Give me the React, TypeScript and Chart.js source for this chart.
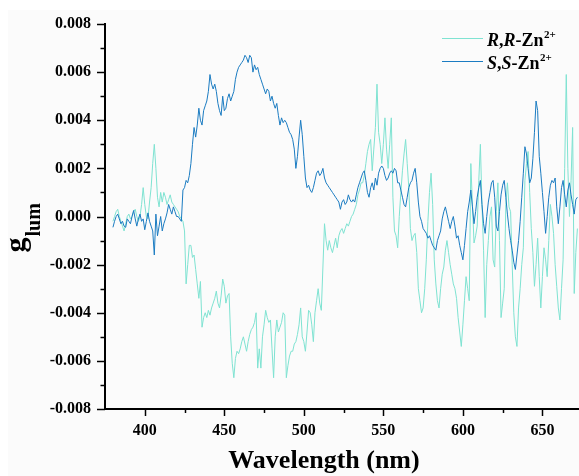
import React, { useEffect, useRef } from "react";
import { Chart, registerables } from "chart.js";

Chart.register(...registerables);

// sampling grid (nm)
const WL_START = 380;
const WL_END = 672;
const WAVELENGTHS: number[] = Array.from({ length: WL_END - WL_START + 1 }, (_, i) => WL_START + i);

// S,S-Zn2+ glum (380..672 nm, 1 nm step)
const SS_ZN: number[] = [
  -0.00045, -0.0002, 0, 0.0001, -0.0001, -0.0003, -0.0002, -0.0004, -0.00045, -0.0001,
  -0.0002, -0.0003, 0, 0.00025, -0.0001, -0.0004, -0.0001, 0.0001, -0.0002, -0.0001,
  -0.00055, -0.0002, 0.00015, -0.0002, -0.0004, -0.0006, -0.0016, 0.0001, -0.0008, -0.0004,
  0, -0.0006, -0.0003, -0.0001, 0.00015, 0.0005, 0.0003, 0.0001, 0.0004, 0.0002,
  0, 0, -0.0001, -0.0002, 0.0011, 0.0012, 0.0015, 0.0014, 0.0017, 0.0022,
  0.003, 0.0037, 0.0033, 0.0038, 0.0045, 0.004, 0.0038, 0.0044, 0.0046, 0.0048,
  0.0052, 0.0059, 0.0055, 0.0053, 0.0055, 0.0052, 0.0047, 0.0044, 0.0042, 0.005,
  0.0044, 0.0045, 0.0049, 0.0051, 0.0048, 0.005, 0.0052, 0.0057, 0.006, 0.0062,
  0.0063, 0.0064, 0.0065, 0.0067, 0.0066, 0.0064, 0.0067, 0.0066, 0.006, 0.0063,
  0.0061, 0.0062, 0.0059, 0.0057, 0.0055, 0.0053, 0.0051, 0.0053, 0.0052, 0.0048,
  0.005, 0.0047, 0.0045, 0.0047, 0.0042, 0.0038, 0.0041, 0.0039, 0.004, 0.0039,
  0.0037, 0.0035, 0.0034, 0.0032, 0.0028, 0.002, 0.0025, 0.0033, 0.004, 0.0034,
  0.0025, 0.0016, 0.0012, 0.0013, 0.0011, 0.001, 0.0012, 0.0015, 0.0018, 0.0019,
  0.0017, 0.0018, 0.002, 0.0016, 0.0014, 0.0013, 0.0012, 0.0011, 0.001, 0.0009,
  0.0008, 0.0007, 0.0006, 0.0003, 0.0006, 0.0007, 0.0005, 0.0006, 0.0009, 0.0007,
  0.0006, 0.0007, 0.0006, 0.0009, 0.0012, 0.0014, 0.0016, 0.0018, 0.0019, 0.0015,
  0.001, 0.0008, 0.0012, 0.0014, 0.0011, 0.0016, 0.0013, 0.0018, 0.002, 0.0021,
  0.002, 0.0017, 0.0015, 0.0016, 0.0018, 0.0019, 0.0018, 0.002, 0.0019, 0.0014,
  0.0014, 0.0011, 0.0008, 0.0005, 0.0004, 0.0008, 0.0012, 0.0014, 0.0015, 0.0018,
  0.002, 0.0014, 0.0006, 0, -0.0002, -0.0005, -0.0006, -0.0007, -0.0009, -0.0008,
  -0.001, -0.0012, -0.0013, -0.0014, -0.001, -0.0008, -0.0006, -0.0001, 0.0002, 0.0004,
  0.0001, -0.0002, -0.0005, -0.0002, 0, -0.0004, -0.0009, -0.0008, -0.0012, -0.0015,
  -0.0018, -0.0012, -0.0005, 0.0002, 0.0006, 0.0011, 0.0004, -0.0003, 0.0002, 0.0008,
  0.0012, 0.0015, 0.0005, -0.0003, -0.0007, 0, 0.0006, 0.001, 0.0014, 0.0015,
  0.0008, -0.0004, -0.0006, 0.0002, 0.0009, 0.0013, 0.0015, 0.0008, 0.0001, -0.0005,
  -0.001, -0.0014, -0.0019, -0.0022, -0.0016, -0.001, -0.0002, 0.0008, 0.0018, 0.0029,
  0.0026, 0.002, 0.0014, 0.0016, 0.0024, 0.0035, 0.0048, 0.0044, 0.0025, 0.0018,
  0.001, 0.0002, -0.0007, 0, 0.0008, 0.0013, 0.0015, 0.0014, 0.0016, 0.0004,
  -0.0003, 0.0004, 0.0012, 0.0015, 0.0009, 0.0004, 0.0011, 0.0014, 0.0009, 0.0005,
  0.0001, 0.0007, 0.0008,
];

// R,R-Zn2+ glum (380..672 nm, 1 nm step)
const RR_ZN: number[] = [
  -0.0002, 0, 0.0002, 0.0003, 0, -0.0002, -0.0004, -0.0006, -0.0003, 0,
  0.0001, -0.0001, 0, 0.0002, 0.0003, 0, -0.0002, 0, 0.0005, 0.0012,
  0.0005, 0, -0.0001, 0.0006, 0.0012, 0.0022, 0.003, 0.002, 0.0008, 0.0004,
  0.001, 0.0006, 0.001, 0.0008, 0.0005, 0.0007, 0.0009, 0.0006, 0.0005, 0.0004,
  0.0003, 0.0002, 0, -0.0001, -0.0002, -0.0006, -0.0028, -0.002, -0.0012, -0.0012,
  -0.0017, -0.0016, -0.0022, -0.0028, -0.0034, -0.0027, -0.0046, -0.0042, -0.004, -0.0042,
  -0.0039, -0.0041, -0.0038, -0.0036, -0.0034, -0.0031, -0.0036, -0.0038, -0.0033, -0.0026,
  -0.0029, -0.0036, -0.0033, -0.0032, -0.005, -0.0061, -0.0067, -0.0059, -0.0056, -0.0057,
  -0.0055, -0.0052, -0.005, -0.0053, -0.0056, -0.0052, -0.0049, -0.0047, -0.0046, -0.0044,
  -0.004, -0.0063, -0.0055, -0.0063, -0.005, -0.0045, -0.0039, -0.0042, -0.0044, -0.0043,
  -0.0055, -0.0067, -0.005, -0.0043, -0.0048, -0.0046, -0.0044, -0.004, -0.0041, -0.0067,
  -0.0062, -0.0058, -0.0056, -0.0056, -0.0053, -0.0052, -0.0049, -0.0045, -0.0038, -0.005,
  -0.0052, -0.0056, -0.0048, -0.0039, -0.004, -0.0045, -0.0052, -0.004, -0.0035, -0.003,
  -0.0036, -0.0039, -0.0021, -0.0003, -0.001, -0.0014, -0.001, -0.0013, -0.0015, -0.0012,
  -0.0009, -0.0013, -0.0008, -0.0006, -0.0005, -0.0007, -0.0005, -0.0003, -0.0004, -0.0002,
  0, 0.0001, 0.0003, 0.0005, 0.0009, 0.0011, 0.0014, 0.0014, 0.0017, 0.0022,
  0.0027, 0.003, 0.0032, 0.0019, 0.0028, 0.0037, 0.0055, 0.0035, 0.003, 0.0022,
  0.003, 0.0041, 0.0028, 0.002, 0.003, 0.0041, 0.0008, -0.0006, -0.0008, -0.0013,
  0, 0.001, 0.0019, 0.0026, 0.0032, 0.0022, 0.0012, -0.0005, -0.001, -0.0008,
  -0.0007, -0.0015, -0.003, -0.0035, -0.004, -0.0038, -0.003, -0.0018, -0.0002, 0.001,
  0.0018, 0.0005, -0.0018, -0.0028, -0.0035, -0.0038, -0.003, -0.0024, -0.0021, -0.0014,
  -0.001, -0.0015, -0.002, -0.0024, -0.0028, -0.003, -0.0034, -0.0042, -0.0048, -0.0054,
  -0.0045, -0.0035, -0.0025, -0.003, -0.0035, 0.0022, 0.0005, -0.0011, -0.0008, -0.0004,
  0.0015, 0.003, 0.0005, -0.0014, -0.0042, -0.002, -0.001, 0, 0.0004, -0.0018,
  -0.0021, 0.0002, 0.0014, -0.001, -0.0042, -0.0036, -0.003, 0.0005, 0.0014, 0.0004,
  0.0002, -0.002, -0.004, -0.005, -0.0054, -0.0038, -0.003, -0.002, -0.0013, 0.0015,
  0.0022, 0.0027, 0.001, -0.0005, -0.0015, -0.0029, -0.002, -0.0009, -0.0025, -0.0038,
  -0.0025, -0.0013, -0.0018, -0.0025, -0.001, 0.0005, 0, -0.0007, -0.002, -0.0029,
  -0.0038, -0.0043, -0.003, -0.0018, 0.002, 0.0059, 0.002, 0, 0.0015, 0.0037,
  -0.0032, -0.0015, -0.0005,
];

const X_MIN = 375;
const X_MAX = 673;
const X_MAJOR = [400, 450, 500, 550, 600, 650];
const X_MINOR = [425, 475, 525, 575, 625];
const Y_MIN = -0.008;
const Y_MAX = 0.008;
const Y_MAJOR = [-0.008, -0.006, -0.004, -0.002, 0, 0.002, 0.004, 0.006, 0.008];
const Y_MINOR = [-0.007, -0.005, -0.003, -0.001, 0.001, 0.003, 0.005, 0.007];

const X_TITLE = "Wavelength (nm)";
const Y_TITLE_MAIN = "g";
const Y_TITLE_SUB = "lum";

const AQUA = "#7fe3d2";
const BLUE = "#1b7cc2";
const FONT = "'Liberation Serif', 'Times New Roman', serif";

type Seg = { t: string; italic?: boolean };
const LEGEND = [
  { color: AQUA, segs: [{ t: "R", italic: true }, { t: "," }, { t: "R", italic: true }, { t: "-Zn" }] as Seg[], sup: "2+" },
  { color: BLUE, segs: [{ t: "S", italic: true }, { t: "," }, { t: "S", italic: true }, { t: "-Zn" }] as Seg[], sup: "2+" },
];

const decorPlugin = {
  id: "decor",
  beforeDraw(chart: any) {
    const { ctx, width, height } = chart;
    ctx.save();
    ctx.fillStyle = "#ffffff";
    ctx.fillRect(0, 0, width, height);
    ctx.fillStyle = "#fbfbfb";
    ctx.fillRect(8, 10, width - 8, height - 10);
    ctx.restore();
  },
  afterDraw(chart: any) {
    const { ctx, chartArea } = chart;
    const xs = chart.scales.x;
    const ys = chart.scales.y;
    ctx.save();
    ctx.strokeStyle = "#000";
    ctx.lineWidth = 1.5;
    const b = chartArea.bottom;
    const l = chartArea.left;
    const tick = (x1: number, y1: number, x2: number, y2: number) => {
      ctx.beginPath();
      ctx.moveTo(x1, y1);
      ctx.lineTo(x2, y2);
      ctx.stroke();
    };
    X_MAJOR.forEach((v) => {
      const p = Math.round(xs.getPixelForValue(v)) + 0.5;
      tick(p, b, p, b + 7);
    });
    X_MINOR.forEach((v) => {
      const p = Math.round(xs.getPixelForValue(v)) + 0.5;
      tick(p, b, p, b + 4);
    });
    Y_MAJOR.forEach((v) => {
      const p = Math.round(ys.getPixelForValue(v)) + 0.5;
      tick(l - 8, p, l, p);
    });
    Y_MINOR.forEach((v) => {
      const p = Math.round(ys.getPixelForValue(v)) + 0.5;
      tick(l - 4.5, p, l, p);
    });

    // x title
    ctx.fillStyle = "#000";
    ctx.font = `bold 26px ${FONT}`;
    ctx.textAlign = "center";
    ctx.textBaseline = "alphabetic";
    ctx.fillText(X_TITLE, (chartArea.left + chartArea.right) / 2 - 18, chartArea.bottom + 59);

    // y title (rotated)
    ctx.save();
    ctx.translate(25, (chartArea.top + chartArea.bottom) / 2 + 36);
    ctx.rotate(-Math.PI / 2);
    ctx.textAlign = "left";
    ctx.font = `bold 30px ${FONT}`;
    ctx.fillText(Y_TITLE_MAIN, 0, 0);
    const gw = ctx.measureText(Y_TITLE_MAIN).width;
    ctx.font = `bold 20px ${FONT}`;
    ctx.fillText(Y_TITLE_SUB, gw + 1, 15);
    ctx.restore();

    // legend
    LEGEND.forEach((item, i) => {
      const ly = chartArea.top + 14.5 + i * 23;
      ctx.strokeStyle = item.color;
      ctx.lineWidth = 1;
      tick(442, ly, 483, ly);
      let x = 487;
      const base = ly + 7;
      ctx.fillStyle = "#000";
      ctx.textAlign = "left";
      item.segs.forEach((s) => {
        ctx.font = `${s.italic ? "italic " : ""}bold 18px ${FONT}`;
        ctx.fillText(s.t, x, base);
        x += ctx.measureText(s.t).width;
      });
      ctx.font = `bold 11px ${FONT}`;
      ctx.fillText(item.sup, x + 0.5, base - 8);
    });
    ctx.restore();
  },
};

export default function App() {
  const ref = useRef<HTMLCanvasElement | null>(null);
  useEffect(() => {
    if (!ref.current) return;
    const tickFont = { family: FONT, size: 16, weight: "bold" as const };
    const chart = new Chart(ref.current, {
      type: "line",
      data: {
        datasets: [
          {
            label: "S,S-Zn2+",
            data: WAVELENGTHS.map((x, i) => ({ x, y: SS_ZN[i] })),
            borderColor: BLUE,
            borderWidth: 1,
            pointRadius: 0,
            tension: 0,
            fill: false,
          },
          {
            label: "R,R-Zn2+",
            data: WAVELENGTHS.map((x, i) => ({ x, y: RR_ZN[i] })),
            borderColor: AQUA,
            borderWidth: 1,
            pointRadius: 0,
            tension: 0,
            fill: false,
          },
        ],
      },
      options: {
        animation: false,
        responsive: false,
        devicePixelRatio: 1,
        layout: { padding: { top: 24, right: 0, bottom: 0, left: 0 } },
        plugins: { legend: { display: false }, tooltip: { enabled: false } },
        scales: {
          x: {
            type: "linear",
            min: X_MIN,
            max: X_MAX,
            afterBuildTicks: (s: any) => {
              s.ticks = X_MAJOR.map((v) => ({ value: v }));
            },
            afterFit: (s: any) => {
              s.height = 67;
            },
            grid: {
              display: true,
              drawOnChartArea: false,
              drawTicks: true,
              tickLength: 7,
              color: "rgba(0,0,0,0)",
              tickColor: "rgba(0,0,0,0)",
            },
            border: { display: true, color: "#000", width: 2 },
            ticks: {
              padding: 5,
              color: "#000",
              font: tickFont,
              maxRotation: 0,
              autoSkip: false,
              callback: (v: any) => String(v),
            },
          },
          y: {
            type: "linear",
            min: Y_MIN,
            max: Y_MAX,
            afterBuildTicks: (s: any) => {
              s.ticks = Y_MAJOR.map((v) => ({ value: v }));
            },
            afterFit: (s: any) => {
              s.width = 105;
            },
            grid: {
              display: true,
              drawOnChartArea: false,
              drawTicks: true,
              tickLength: 8,
              color: "rgba(0,0,0,0)",
              tickColor: "rgba(0,0,0,0)",
            },
            border: { display: true, color: "#000", width: 2 },
            ticks: {
              padding: 6,
              color: "#000",
              font: tickFont,
              autoSkip: false,
              callback: (v: any) => Number(v).toFixed(3),
            },
          },
        },
      },
      plugins: [decorPlugin],
    });
    return () => chart.destroy();
  }, []);
  return (
    <div style={{ position: "fixed", left: 0, top: 0, width: 579, height: 476 }}>
      <canvas ref={ref} width={579} height={476} style={{ display: "block", width: 579, height: 476 }} />
    </div>
  );
}
